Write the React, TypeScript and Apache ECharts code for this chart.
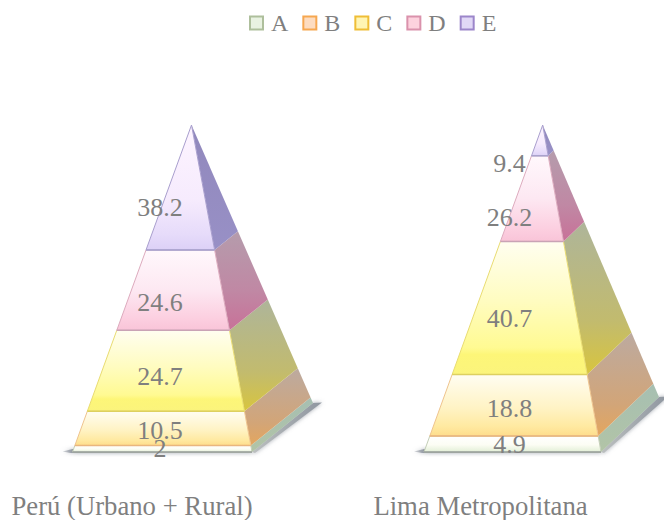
import React, { useEffect, useRef } from "react";
import * as echarts from "echarts";

const categories = ["Perú (Urbano + Rural)", "Lima Metropolitana"];
const seriesNames = ["A", "B", "C", "D", "E"];
const valuesA = [2, 4.9];
const valuesB = [10.5, 18.8];
const valuesC = [24.7, 40.7];
const valuesD = [24.6, 26.2];
const valuesE = [38.2, 9.4];
const allValues = [valuesA, valuesB, valuesC, valuesD, valuesE];

const FONT = '"Liberation Serif", "Times New Roman", serif';
const TEXT_COLOR = "#7f7f7f";

// Pixel offsets of each pyramid's corners from its category's centre.
const shapes = [
  { left: -59.5, right: 120, apex: 59.5, backDx: 61, backDy: -49, labelDx: 28 },
  { left: -56.5, right: 120.5, apex: 62.2, backDx: 58, backDy: -55, labelDx: 29 },
];

const swatches = [
  { fill: "#e9f2e2", border: "#aebf9c" },
  { fill: "#fddcc0", border: "#f6a750" },
  { fill: "#fff5b4", border: "#efbe36" },
  { fill: "#fdd2de", border: "#da92ac" },
  { fill: "#e1d8f6", border: "#9c86ca" },
];

type Stop = [number, string];
const frontStops: Stop[][] = [
  [[0, "#ffffff"], [0.55, "#fcfdf4"], [1, "#e2efd6"]],
  [[0, "#fffdf2"], [0.55, "#fff3c4"], [0.85, "#ffe9a0"], [1, "#fedd8c"]],
  [[0, "#fffef0"], [0.45, "#fffcc0"], [0.8, "#fffa92"], [0.85, "#fdf678"], [1, "#fbf47c"]],
  [[0, "#fff8fc"], [0.5, "#fde8f2"], [0.85, "#fccfe0"], [1, "#f9c4d8"]],
  [[0, "#fdf4ff"], [0.6, "#f6ebfd"], [0.88, "#e6dbfa"], [1, "#dcd0f6"]],
];
const sideStops: Stop[][] = [
  [[0, "#a6bfb2"], [1, "#b2c4a6"]],
  [[0, "#bcaaa0"], [0.7, "#d2a578"], [1, "#e4a65e"]],
  [[0, "#aeb59a"], [0.65, "#c2bb6e"], [1, "#d8c53e"]],
  [[0, "#b59cac"], [0.6, "#c088a4"], [1, "#c87198"]],
  [[0, "#9188bc"], [1, "#9890c6"]],
];
const edgeColors = ["#c4cfb8", "#efc48e", "#e9dc72", "#ddabbe", "#a99fce"];
const floorLineColors = ["#9aa09c", "#e9b67e", "#ddd060", "#c9a3b5", "#a9a2cc"];

const gradient = (stops: Stop[], x2 = 0, y2 = 1) => ({
  type: "linear",
  x: 0,
  y: 0,
  x2,
  y2,
  colorStops: stops.map(([offset, color]) => ({ offset, color })),
});

const lerp = (a: number, b: number, t: number) => a + (b - a) * t;

function makeRenderItem(seriesIndex: number) {
  return (_params: any, api: any) => {
    const cat = api.value(0);
    const low = api.value(1);
    const high = api.value(2);
    const value = api.value(3);
    const [cx, baseY] = api.coord([cat, 0]);
    const apexY = api.coord([cat, 100])[1];
    const s = shapes[cat];
    const bl = cx + s.left;
    const br = cx + s.right;
    const ax = cx + s.apex;
    const bkx = br + s.backDx;
    const bky = baseY + s.backDy;

    const frontY = (v: number) => api.coord([cat, v])[1];
    const leftAt = (v: number) => [lerp(bl, ax, v / 100), frontY(v)];
    const rightAt = (v: number) => [lerp(br, ax, v / 100), frontY(v)];
    const backAt = (v: number) => [lerp(bkx, ax, v / 100), lerp(bky, apexY, v / 100)];

    const children: any[] = [];

    // Soft ground shadow sits under the lowest segment.
    if (seriesIndex === 0) {
      const shadow = { shadowBlur: 4, shadowColor: "rgba(120,128,140,0.7)" };
      children.push({
        type: "polygon",
        shape: { points: [[bl - 10, baseY - 0.5], [bl, baseY - 3], [br, baseY - 2], [br, baseY + 1], [bl - 2, baseY + 1]] },
        style: { fill: gradient([[0, "rgba(110,118,130,0.25)"], [0.08, "#868c98"], [0.4, "#a0a4aa"], [1, "#acb0b4"]], 1, 0), ...shadow },
      });
      children.push({
        type: "polygon",
        shape: { points: [[br, baseY], [bkx, bky], [bkx + 9, bky - 0.5], [br + 3, baseY + 1]] },
        style: { fill: gradient([[0, "#bcc0c0"], [0.6, "#a0a6ac"], [1, "#8f96a0"]], 1, 0), ...shadow },
      });
    }

    children.push({
      type: "polygon",
      shape: { points: [rightAt(low), backAt(low), backAt(high), rightAt(high)] },
      style: { fill: gradient(sideStops[seriesIndex]) },
    });
    children.push({
      type: "polygon",
      shape: { points: [leftAt(low), rightAt(low), rightAt(high), leftAt(high)] },
      style: { fill: gradient(frontStops[seriesIndex]), stroke: edgeColors[seriesIndex], lineWidth: 1 },
    });
    children.push({
      type: "line",
      shape: { x1: leftAt(low)[0], y1: frontY(low), x2: rightAt(low)[0], y2: frontY(low) },
      style: { stroke: floorLineColors[seriesIndex], lineWidth: 1.5 },
    });

    // Labels sit slightly below the segment's middle, towards the base.
    const mid = (low + high) / 2;
    children.push({
      type: "text",
      z2: 100,
      style: {
        text: String(value),
        x: cx + s.labelDx,
        y: frontY(mid * 0.925),
        align: "center",
        verticalAlign: "middle",
        fill: TEXT_COLOR,
        font: `26px ${FONT}`,
      },
    });

    return { type: "group", children };
  };
}

function buildSeries() {
  const running = categories.map(() => 0);
  return seriesNames.map((name, i) => {
    const data = categories.map((_, c) => {
      const low = running[c];
      running[c] = low + allValues[i][c];
      return [c, low, running[c], allValues[i][c]];
    });
    return {
      name,
      type: "custom",
      clip: false,
      coordinateSystem: "cartesian2d",
      encode: { x: 0, y: [1, 2] },
      renderItem: makeRenderItem(i),
      data,
    };
  });
}

export default function App() {
  const ref = useRef<HTMLDivElement>(null);

  useEffect(() => {
    const chart = echarts.init(ref.current!, undefined, { renderer: "svg" });
    chart.setOption({
      animation: false,
      backgroundColor: "#ffffff",
      legend: {
        left: 244,
        top: 6,
        icon: "rect",
        itemWidth: 13,
        itemHeight: 13,
        itemGap: 14,
        selectedMode: false,
        textStyle: { color: TEXT_COLOR, fontFamily: FONT, fontSize: 24, padding: [0, 0, 0, 3] },
        data: seriesNames.map((name, i) => ({
          name,
          itemStyle: { color: swatches[i].fill, borderColor: swatches[i].border, borderWidth: 2 },
        })),
      },
      grid: { left: -42.25, width: 697, top: 125, height: 327, outerBoundsMode: "none" },
      xAxis: {
        type: "category",
        data: categories,
        axisLine: { show: false },
        axisTick: { show: false },
        splitLine: { show: false },
        axisLabel: { interval: 0, margin: 40, color: TEXT_COLOR, fontFamily: FONT, fontSize: 26.7 },
      },
      yAxis: { type: "value", min: 0, max: 100, show: false },
      series: buildSeries(),
    });
    return () => chart.dispose();
  }, []);

  return <div ref={ref} style={{ position: "absolute", left: 0, top: 0, width: 664, height: 520 }} />;
}
